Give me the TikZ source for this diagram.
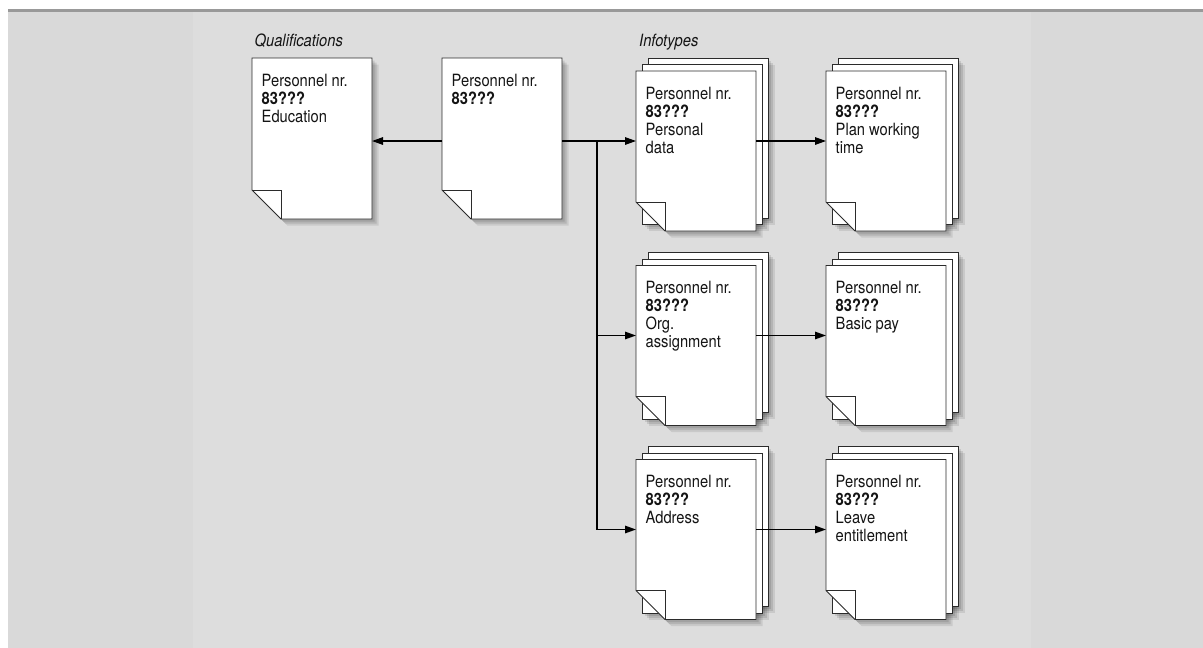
\documentclass[tikz,border=0pt]{standalone}
\usepackage{fontspec}
\setmainfont{TeX Gyre Heros}[FakeStretch=0.87]
\usetikzlibrary{arrows.meta,calc}
\definecolor{bgouter}{HTML}{D9D9D9}
\definecolor{bginner}{HTML}{DDDDDD}
\definecolor{topline}{HTML}{999999}
\definecolor{ink}{HTML}{141414}
\definecolor{edge}{HTML}{2B2B2B}
\newcommand\sheetrect[4]{%
  \path[#1] ([shift={(#3,#4)}]#2.south west) rectangle ([shift={(#3,#4)}]#2.north east);}
\newcommand\sheetfold[4]{%
  \path[#1] ([shift={(#3,#4)}]#2.north west) -- ([shift={(#3,#4)}]#2.north east)
    -- ([shift={(#3,#4)}]#2.south east) -- ([shift={(#3+29,#4)}]#2.south west)
    -- ([shift={(#3,#4-29)}]#2.south west) -- cycle;}
\newcommand\foldlines[1]{%
  \draw[edge,line width=0.9pt] ([shift={(0,-29)}]#1.south west) -- ([shift={(29,-29)}]#1.south west) -- ([shift={(29,0)}]#1.south west);}
\newcommand\mkstack[4]{%
  \path node[docbox=160pt] (#1) at (#2,#3) {};
  \foreach \d/\op in {2.5/0.10,4.5/0.10,6.5/0.09}{%
    \sheetrect{sheetshadow=\op}{#1}{12+\d}{-13+\d}
    \sheetrect{sheetshadow=\op}{#1}{6+\d}{-6.5+\d}
    \sheetfold{sheetshadow=\op}{#1}{\d}{\d}}
  \sheetrect{sheet}{#1}{12}{-13}
  \sheetrect{sheet}{#1}{6}{-6.5}
  \sheetfold{sheet}{#1}{0}{0}
  \foldlines{#1}
  \node[doctext] (#1t) at ([shift={(9.5,15.8)}]#1.north west) {#4};}
\newcommand\mkdoc[4]{%
  \path node[docbox=161pt] (#1) at (#2,#3) {};
  \foreach \d/\op in {2.5/0.10,4.5/0.10,6.5/0.09}{%
    \sheetfold{sheetshadow=\op}{#1}{\d}{\d}}
  \sheetfold{sheet}{#1}{0}{0}
  \foldlines{#1}
  \node[doctext] (#1t) at ([shift={(9.5,15.8)}]#1.north west) {#4};}
\begin{document}
\begin{tikzpicture}[x=1pt,y=-1pt,
  docbox/.style={minimum width=120pt,minimum height=#1,inner sep=0pt,outer sep=0pt},
  sheet/.style={fill=white,draw=edge,line width=0.9pt},
  sheetshadow/.style={fill=black,opacity=#1},
  doctext/.style={anchor=north west,inner sep=0pt,align=left,text=ink,font=\fontsize{16.9}{18}\selectfont},
  lbl/.style={anchor=base west,inner sep=0pt,text=ink,font=\fontsize{16.9}{18}\selectfont\itshape},
  wire/.style={draw=black,line width=1.4pt},
  conn/.style={wire,-{Triangle[length=11pt,width=7.5pt]}}]
\useasboundingbox (0,0) rectangle (1203,648);
\fill[white] (0,0) rectangle (1203,648);
\fill[bgouter] (8,12) rectangle (1203,648);
\fill[bginner] (193,12) rectangle (1031,648);
\fill[topline] (8,9) rectangle (1203,12);
% documents
\mkdoc{d1}{312}{138.5}{Personnel nr.\\\textbf{83???}\\Education}
\mkdoc{d2}{502}{138.5}{Personnel nr.\\\textbf{83???}}
\mkstack{s11}{696}{151}{Personnel nr.\\\textbf{83???}\\Personal\\data}
\mkstack{s12}{886}{151}{Personnel nr.\\\textbf{83???}\\Plan working\\time}
\mkstack{s21}{696}{345.5}{Personnel nr.\\\textbf{83???}\\Org.\\assignment}
\mkstack{s22}{886}{345.5}{Personnel nr.\\\textbf{83???}\\Basic pay}
\mkstack{s31}{696}{539.5}{Personnel nr.\\\textbf{83???}\\Address}
\mkstack{s32}{886}{539.5}{Personnel nr.\\\textbf{83???}\\Leave\\entitlement}
% labels
\node[lbl] (qlab) at ([shift={(2.5,-11.5)}]d1.north west) {Qualifications};
\node[lbl] (ilab) at ([shift={(3,-24.3)}]s11.north west) {Infotypes};
% connectors
\coordinate (j1) at (597,141);
\coordinate (j2) at (597,335.5);
\coordinate (j3) at (597,529.5);
\draw[conn] ([yshift=-2.5pt]d2.west) -- ([yshift=-2.5pt]d1.east);
\draw[wire] ([yshift=-2.5pt]d2.east) -- (j1) -- (j3);
\draw[conn] (j1) -- ([yshift=10pt]s11.west);
\draw[conn] (j2) -- ([yshift=10pt]s21.west);
\draw[conn] (j3) -- ([yshift=10pt]s31.west);
\draw[conn] ([yshift=10pt]s11.east) -- ([yshift=10pt]s12.west);
\draw[conn] ([yshift=10pt]s21.east) -- ([yshift=10pt]s22.west);
\draw[conn] ([yshift=10pt]s31.east) -- ([yshift=10pt]s32.west);
\end{tikzpicture}
\end{document}
